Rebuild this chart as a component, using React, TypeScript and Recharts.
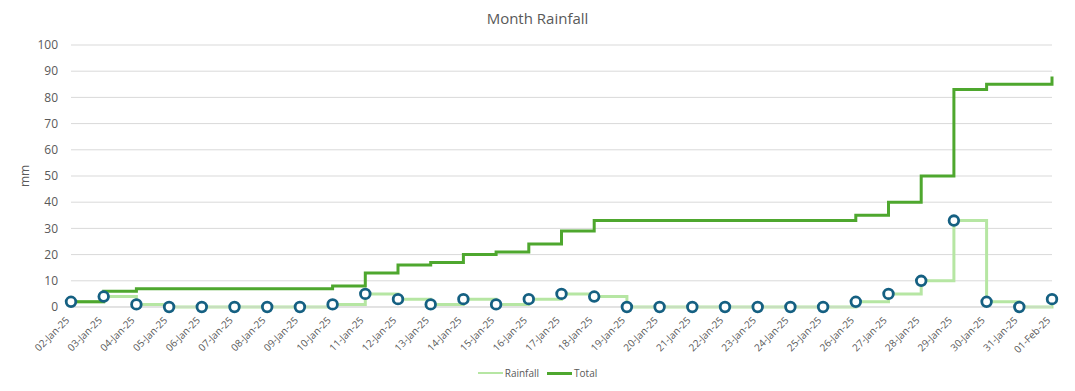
import React from 'react';
import { LineChart, Line, XAxis, YAxis, CartesianGrid } from 'recharts';

const dates = [
  '02-Jan-25', '03-Jan-25', '04-Jan-25', '05-Jan-25', '06-Jan-25', '07-Jan-25', '08-Jan-25',
  '09-Jan-25', '10-Jan-25', '11-Jan-25', '12-Jan-25', '13-Jan-25', '14-Jan-25', '15-Jan-25',
  '16-Jan-25', '17-Jan-25', '18-Jan-25', '19-Jan-25', '20-Jan-25', '21-Jan-25', '22-Jan-25',
  '23-Jan-25', '24-Jan-25', '25-Jan-25', '26-Jan-25', '27-Jan-25', '28-Jan-25', '29-Jan-25',
  '30-Jan-25', '31-Jan-25', '01-Feb-25',
];

const rainfall = [2, 4, 1, 0, 0, 0, 0, 0, 1, 5, 3, 1, 3, 1, 3, 5, 4, 0, 0, 0, 0, 0, 0, 0, 2, 5, 10, 33, 2, 0, 3];

const total = [2, 6, 7, 7, 7, 7, 7, 7, 8, 13, 16, 17, 20, 21, 24, 29, 33, 33, 33, 33, 33, 33, 33, 33, 35, 40, 50, 83, 85, 85, 88];

const yTicks = [0, 10, 20, 30, 40, 50, 60, 70, 80, 90, 100];

const seriesNames = { rainfall: 'Rainfall', total: 'Total' };

const data = dates.map((d, i) => ({ date: d, rainfall: rainfall[i], total: total[i] }));

const FONT = '"Open Sans", "Noto Sans", sans-serif';
const TEXT = '#595959';
const LIGHT = '#B6E6A3';
const DARK = '#4EA72E';
const MARK = '#156082';

const XTick = (props: any) => {
  const { x, y, payload } = props;
  return (
    <g transform={`translate(${x - 1},${y + 14})`}>
      <text x={0} y={0} textAnchor="end" fontSize={10} fill={TEXT} fontFamily={FONT} transform="rotate(-45)">
        {payload.value}
      </text>
    </g>
  );
};

const LegendItem = ({ color, width, label }: { color: string; width: number; label: string }) => (
  <div style={{ display: 'flex', alignItems: 'center', margin: '0 4px' }}>
    <div style={{ width: 25, height: width, background: color, marginRight: 2 }} />
    <span>{label}</span>
  </div>
);

export default function App() {
  return (
    <div style={{ position: 'absolute', left: 0, top: 0, width: 1075, height: 391, background: '#fff', fontFamily: FONT }}>
      <div style={{ position: 'absolute', top: 7, left: 0, width: 1075, textAlign: 'center', fontSize: 15, lineHeight: '22px', color: TEXT }}>
        Month Rainfall
      </div>
      <LineChart width={1075} height={391} data={data} margin={{ top: 45, right: 23, bottom: 0, left: 0 }}>
        <CartesianGrid vertical={false} stroke="#d9d9d9" strokeWidth={1} />
        <XAxis
          dataKey="date"
          interval={0}
          height={84}
          tickSize={0}
          tickMargin={0}
          tickLine={false}
          axisLine={{ stroke: '#d9d9d9' }}
          tick={<XTick />}
        />
        <YAxis
          width={71}
          domain={[0, 100]}
          ticks={yTicks}
          interval={0}
          axisLine={false}
          tickLine={false}
          tickSize={0}
          tickMargin={13}
          tick={{ fontSize: 12, fill: TEXT, fontFamily: FONT }}
          label={{ value: 'mm', angle: -90, position: 'insideLeft', offset: 25, fill: TEXT, fontSize: 12, fontFamily: FONT, style: { textAnchor: 'middle' } }}
        />
        <Line type="stepAfter" dataKey="rainfall" name={seriesNames.rainfall} stroke={LIGHT} strokeWidth={3} dot={false} activeDot={false} isAnimationActive={false} />
        <Line type="stepAfter" dataKey="total" name={seriesNames.total} stroke={DARK} strokeWidth={3} dot={false} activeDot={false} isAnimationActive={false} />
        <Line
          type="stepAfter"
          dataKey="rainfall"
          stroke="none"
          legendType="none"
          dot={{ r: 4.8, stroke: MARK, strokeWidth: 2.8, fill: '#fff' }}
          activeDot={false}
          isAnimationActive={false}
        />
      </LineChart>
      <div style={{ position: 'absolute', top: 366, left: 0, width: 1075, display: 'flex', justifyContent: 'center', fontSize: 10, color: TEXT, lineHeight: '14px' }}>
        <LegendItem color={LIGHT} width={2} label={seriesNames.rainfall} />
        <LegendItem color={DARK} width={3} label={seriesNames.total} />
      </div>
    </div>
  );
}
